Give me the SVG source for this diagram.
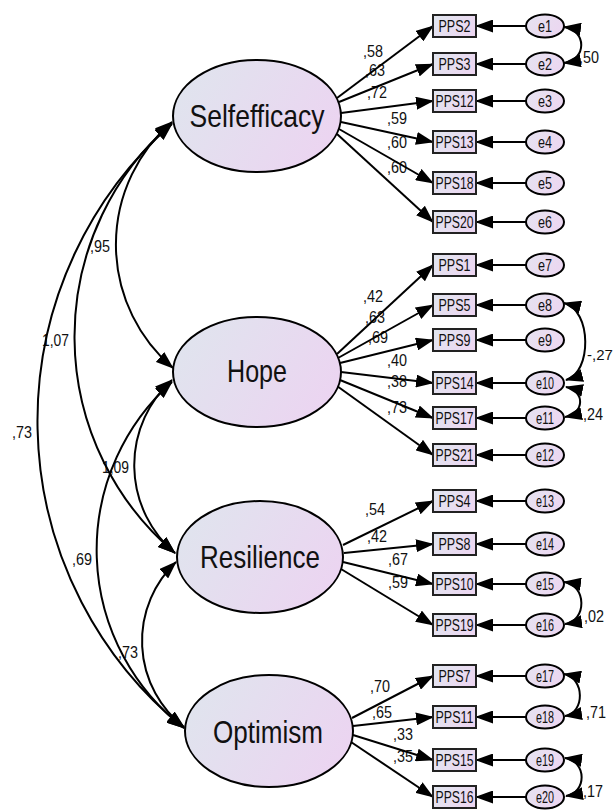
<svg xmlns="http://www.w3.org/2000/svg" width="615" height="811" viewBox="0 0 615 811">
<defs>
<linearGradient id="gLat" x1="0" y1="0.3" x2="1" y2="0.7">
<stop offset="0" stop-color="#e0e4ee"/><stop offset="1" stop-color="#ecd4f1"/>
</linearGradient>
<linearGradient id="gObs" x1="0" y1="0.3" x2="1" y2="0.7">
<stop offset="0" stop-color="#e2e5ef"/><stop offset="1" stop-color="#ecd6f1"/>
</linearGradient>
<linearGradient id="gErr" x1="0" y1="0.3" x2="1" y2="0.7">
<stop offset="0" stop-color="#e6e2f0"/><stop offset="1" stop-color="#ecd6f1"/>
</linearGradient>
<marker id="ah" viewBox="0 0 18 13" refX="17" refY="6.5" markerWidth="18" markerHeight="13" markerUnits="userSpaceOnUse" orient="auto-start-reverse">
<path d="M0,0 L18,6.5 L0,13 z" fill="#000"/>
</marker>
</defs>
<style>
.lat{fill:url(#gLat);stroke:#000;stroke-width:2}
.obs{fill:url(#gObs);stroke:#222;stroke-width:2}
.err{fill:url(#gErr);stroke:#000;stroke-width:2}
.ln{stroke:#000;stroke-width:2;fill:none}
.a1{marker-end:url(#ah)}
.a2{marker-start:url(#ah);marker-end:url(#ah)}
text{font-family:"Liberation Sans",Arial,sans-serif;fill:#111}
.big{font-size:32px;text-anchor:middle}
.bx{font-size:16px;text-anchor:middle}
.lab{font-size:17px}
</style>
<rect width="615" height="811" fill="#fff"/>

<g id="labels">
<text class="lab" x="363" y="57" textLength="20" lengthAdjust="spacingAndGlyphs">,58</text>
<text class="lab" x="365" y="76" textLength="20" lengthAdjust="spacingAndGlyphs">,63</text>
<text class="lab" x="367" y="98" textLength="20" lengthAdjust="spacingAndGlyphs">,72</text>
<text class="lab" x="387" y="124" textLength="20" lengthAdjust="spacingAndGlyphs">,59</text>
<text class="lab" x="387" y="148" textLength="20" lengthAdjust="spacingAndGlyphs">,60</text>
<text class="lab" x="387" y="173" textLength="20" lengthAdjust="spacingAndGlyphs">,60</text>
<text class="lab" x="363" y="302" textLength="20" lengthAdjust="spacingAndGlyphs">,42</text>
<text class="lab" x="365" y="323" textLength="20" lengthAdjust="spacingAndGlyphs">,63</text>
<text class="lab" x="368" y="343" textLength="20" lengthAdjust="spacingAndGlyphs">,69</text>
<text class="lab" x="387" y="366" textLength="20" lengthAdjust="spacingAndGlyphs">,40</text>
<text class="lab" x="387" y="387" textLength="20" lengthAdjust="spacingAndGlyphs">,38</text>
<text class="lab" x="387" y="413" textLength="20" lengthAdjust="spacingAndGlyphs">,73</text>
<text class="lab" x="365" y="515" textLength="20" lengthAdjust="spacingAndGlyphs">,54</text>
<text class="lab" x="367" y="542" textLength="20" lengthAdjust="spacingAndGlyphs">,42</text>
<text class="lab" x="388" y="565" textLength="20" lengthAdjust="spacingAndGlyphs">,67</text>
<text class="lab" x="388" y="588" textLength="20" lengthAdjust="spacingAndGlyphs">,59</text>
<text class="lab" x="370" y="692" textLength="20" lengthAdjust="spacingAndGlyphs">,70</text>
<text class="lab" x="372" y="718" textLength="20" lengthAdjust="spacingAndGlyphs">,65</text>
<text class="lab" x="393" y="740" textLength="20" lengthAdjust="spacingAndGlyphs">,33</text>
<text class="lab" x="393" y="762" textLength="20" lengthAdjust="spacingAndGlyphs">,35</text>
<text class="lab" x="90" y="252" textLength="20" lengthAdjust="spacingAndGlyphs">,95</text>
<text class="lab" x="42" y="346" textLength="27" lengthAdjust="spacingAndGlyphs">1,07</text>
<text class="lab" x="12" y="438" textLength="20" lengthAdjust="spacingAndGlyphs">,73</text>
<text class="lab" x="102" y="473" textLength="27" lengthAdjust="spacingAndGlyphs">1,09</text>
<text class="lab" x="72" y="565" textLength="20" lengthAdjust="spacingAndGlyphs">,69</text>
<text class="lab" x="118" y="658" textLength="20" lengthAdjust="spacingAndGlyphs">,73</text>
<text class="lab" x="579" y="63" textLength="20" lengthAdjust="spacingAndGlyphs">,50</text>
<text x="587" y="360" style="font-size:15px">-,27</text>
<text class="lab" x="583" y="420" textLength="20" lengthAdjust="spacingAndGlyphs">,24</text>
<text class="lab" x="584" y="622" textLength="20" lengthAdjust="spacingAndGlyphs">,02</text>
<text class="lab" x="586" y="718" textLength="20" lengthAdjust="spacingAndGlyphs">,71</text>
<text class="lab" x="583" y="797" textLength="20" lengthAdjust="spacingAndGlyphs">,17</text>
</g>

<g id="connectors">
<path class="ln a1" d="M337,98 L433,26"/>
<path class="ln a1" d="M339,102 L433,64"/>
<path class="ln a1" d="M341,113 L433,101"/>
<path class="ln a1" d="M341,122 L433,142"/>
<path class="ln a1" d="M339,129 L433,183"/>
<path class="ln a1" d="M337,134 L433,222"/>
<path class="ln a1" d="M337,354 L433,265"/>
<path class="ln a1" d="M338,358 L433,305"/>
<path class="ln a1" d="M340,363 L433,340"/>
<path class="ln a1" d="M341,372 L433,383"/>
<path class="ln a1" d="M340,380 L433,418"/>
<path class="ln a1" d="M337,386 L433,455"/>
<path class="ln a1" d="M343,545 L433,501"/>
<path class="ln a1" d="M344,553 L433,544"/>
<path class="ln a1" d="M343,562 L433,584"/>
<path class="ln a1" d="M341,569 L433,625"/>
<path class="ln a1" d="M352,718 L433,676"/>
<path class="ln a1" d="M353,726 L433,717"/>
<path class="ln a1" d="M353,735 L433,760"/>
<path class="ln a1" d="M351,742 L433,797"/>

<path class="ln a1" d="M526,26 L476,26"/>
<path class="ln a1" d="M526,64 L476,64"/>
<path class="ln a1" d="M526,101 L476,101"/>
<path class="ln a1" d="M526,142 L476,142"/>
<path class="ln a1" d="M526,183 L476,183"/>
<path class="ln a1" d="M526,222 L476,222"/>
<path class="ln a1" d="M526,265 L476,265"/>
<path class="ln a1" d="M526,305 L476,305"/>
<path class="ln a1" d="M526,340 L476,340"/>
<path class="ln a1" d="M526,383 L476,383"/>
<path class="ln a1" d="M526,418 L476,418"/>
<path class="ln a1" d="M526,455 L476,455"/>
<path class="ln a1" d="M526,501 L476,501"/>
<path class="ln a1" d="M526,544 L476,544"/>
<path class="ln a1" d="M526,584 L476,584"/>
<path class="ln a1" d="M526,625 L476,625"/>
<path class="ln a1" d="M526,676 L476,676"/>
<path class="ln a1" d="M526,717 L476,717"/>
<path class="ln a1" d="M526,760 L476,760"/>
<path class="ln a1" d="M526,797 L476,797"/>

<path class="ln a2" d="M564,27 C587,30 587,60 564,63"/>
<path class="ln a2" d="M564,303 C592,310 592,373 566,380"/>
<path class="ln a2" d="M566,387 C585,391 585,413 565,417"/>
<path class="ln a2" d="M564,582 C587,585 587,621 565,624"/>
<path class="ln a2" d="M564,674 C585,678 585,713 565,716"/>
<path class="ln a2" d="M565,758 C587,761 587,793 566,796"/>

<path class="ln a2" d="M172,122 A162,162 0 0 0 173,368"/>
<path class="ln a2" d="M172,123 A283,283 0 0 0 175,553"/>
<path class="ln a2" d="M172,124 A395,395 0 0 0 184,728"/>
<path class="ln a2" d="M172,380 A115,115 0 0 0 175,553"/>
<path class="ln a2" d="M172,382 A225,225 0 0 0 184,728"/>
<path class="ln a2" d="M176,562 A109,109 0 0 0 184,727"/>
</g>

<g id="selfefficacy"><ellipse class="lat" cx="257" cy="116" rx="84" ry="56"/><text class="big" x="257" y="127" textLength="135" lengthAdjust="spacingAndGlyphs">Selfefficacy</text></g>
<g id="hope"><ellipse class="lat" cx="257" cy="372" rx="84" ry="55"/><text class="big" x="257" y="382" textLength="60" lengthAdjust="spacingAndGlyphs">Hope</text></g>
<g id="resilience"><ellipse class="lat" cx="260" cy="557" rx="83" ry="56"/><text class="big" x="260" y="568" textLength="120" lengthAdjust="spacingAndGlyphs">Resilience</text></g>
<g id="optimism"><ellipse class="lat" cx="269" cy="731" rx="84" ry="56"/><text class="big" x="268" y="743" textLength="110" lengthAdjust="spacingAndGlyphs">Optimism</text></g>

<g id="PPS2"><rect class="obs" x="433" y="15" width="43" height="22"/><text class="bx" x="454.5" y="32" textLength="32" lengthAdjust="spacingAndGlyphs">PPS2</text></g>
<g id="PPS3"><rect class="obs" x="433" y="53" width="43" height="22"/><text class="bx" x="454.5" y="70" textLength="32" lengthAdjust="spacingAndGlyphs">PPS3</text></g>
<g id="PPS12"><rect class="obs" x="433" y="90" width="43" height="22"/><text class="bx" x="454.5" y="107" textLength="38" lengthAdjust="spacingAndGlyphs">PPS12</text></g>
<g id="PPS13"><rect class="obs" x="433" y="131" width="43" height="22"/><text class="bx" x="454.5" y="148" textLength="38" lengthAdjust="spacingAndGlyphs">PPS13</text></g>
<g id="PPS18"><rect class="obs" x="433" y="172" width="43" height="22"/><text class="bx" x="454.5" y="189" textLength="38" lengthAdjust="spacingAndGlyphs">PPS18</text></g>
<g id="PPS20"><rect class="obs" x="433" y="211" width="43" height="22"/><text class="bx" x="454.5" y="228" textLength="38" lengthAdjust="spacingAndGlyphs">PPS20</text></g>
<g id="PPS1"><rect class="obs" x="433" y="254" width="43" height="22"/><text class="bx" x="454.5" y="271" textLength="32" lengthAdjust="spacingAndGlyphs">PPS1</text></g>
<g id="PPS5"><rect class="obs" x="433" y="294" width="43" height="22"/><text class="bx" x="454.5" y="311" textLength="32" lengthAdjust="spacingAndGlyphs">PPS5</text></g>
<g id="PPS9"><rect class="obs" x="433" y="329" width="43" height="22"/><text class="bx" x="454.5" y="346" textLength="32" lengthAdjust="spacingAndGlyphs">PPS9</text></g>
<g id="PPS14"><rect class="obs" x="433" y="372" width="43" height="22"/><text class="bx" x="454.5" y="389" textLength="38" lengthAdjust="spacingAndGlyphs">PPS14</text></g>
<g id="PPS17"><rect class="obs" x="433" y="407" width="43" height="22"/><text class="bx" x="454.5" y="424" textLength="38" lengthAdjust="spacingAndGlyphs">PPS17</text></g>
<g id="PPS21"><rect class="obs" x="433" y="444" width="43" height="22"/><text class="bx" x="454.5" y="461" textLength="38" lengthAdjust="spacingAndGlyphs">PPS21</text></g>
<g id="PPS4"><rect class="obs" x="433" y="490" width="43" height="22"/><text class="bx" x="454.5" y="507" textLength="32" lengthAdjust="spacingAndGlyphs">PPS4</text></g>
<g id="PPS8"><rect class="obs" x="433" y="533" width="43" height="22"/><text class="bx" x="454.5" y="550" textLength="32" lengthAdjust="spacingAndGlyphs">PPS8</text></g>
<g id="PPS10"><rect class="obs" x="433" y="573" width="43" height="22"/><text class="bx" x="454.5" y="590" textLength="38" lengthAdjust="spacingAndGlyphs">PPS10</text></g>
<g id="PPS19"><rect class="obs" x="433" y="614" width="43" height="22"/><text class="bx" x="454.5" y="631" textLength="38" lengthAdjust="spacingAndGlyphs">PPS19</text></g>
<g id="PPS7"><rect class="obs" x="433" y="665" width="43" height="22"/><text class="bx" x="454.5" y="682" textLength="32" lengthAdjust="spacingAndGlyphs">PPS7</text></g>
<g id="PPS11"><rect class="obs" x="433" y="706" width="43" height="22"/><text class="bx" x="454.5" y="723" textLength="38" lengthAdjust="spacingAndGlyphs">PPS11</text></g>
<g id="PPS15"><rect class="obs" x="433" y="749" width="43" height="22"/><text class="bx" x="454.5" y="766" textLength="38" lengthAdjust="spacingAndGlyphs">PPS15</text></g>
<g id="PPS16"><rect class="obs" x="433" y="786" width="43" height="22"/><text class="bx" x="454.5" y="803" textLength="38" lengthAdjust="spacingAndGlyphs">PPS16</text></g>

<g id="e1"><ellipse class="err" cx="545" cy="26" rx="19" ry="11.5"/><text class="bx" x="545" y="32" textLength="14" lengthAdjust="spacingAndGlyphs">e1</text></g>
<g id="e2"><ellipse class="err" cx="545" cy="64" rx="19" ry="11.5"/><text class="bx" x="545" y="70" textLength="14" lengthAdjust="spacingAndGlyphs">e2</text></g>
<g id="e3"><ellipse class="err" cx="545" cy="101" rx="19" ry="11.5"/><text class="bx" x="545" y="107" textLength="14" lengthAdjust="spacingAndGlyphs">e3</text></g>
<g id="e4"><ellipse class="err" cx="545" cy="142" rx="19" ry="11.5"/><text class="bx" x="545" y="148" textLength="14" lengthAdjust="spacingAndGlyphs">e4</text></g>
<g id="e5"><ellipse class="err" cx="545" cy="183" rx="19" ry="11.5"/><text class="bx" x="545" y="189" textLength="14" lengthAdjust="spacingAndGlyphs">e5</text></g>
<g id="e6"><ellipse class="err" cx="545" cy="222" rx="19" ry="11.5"/><text class="bx" x="545" y="228" textLength="14" lengthAdjust="spacingAndGlyphs">e6</text></g>
<g id="e7"><ellipse class="err" cx="545" cy="265" rx="19" ry="11.5"/><text class="bx" x="545" y="271" textLength="14" lengthAdjust="spacingAndGlyphs">e7</text></g>
<g id="e8"><ellipse class="err" cx="545" cy="305" rx="19" ry="11.5"/><text class="bx" x="545" y="311" textLength="14" lengthAdjust="spacingAndGlyphs">e8</text></g>
<g id="e9"><ellipse class="err" cx="545" cy="340" rx="19" ry="11.5"/><text class="bx" x="545" y="346" textLength="14" lengthAdjust="spacingAndGlyphs">e9</text></g>
<g id="e10"><ellipse class="err" cx="545" cy="383" rx="19" ry="11.5"/><text class="bx" x="545" y="389" textLength="18" lengthAdjust="spacingAndGlyphs">e10</text></g>
<g id="e11"><ellipse class="err" cx="545" cy="418" rx="19" ry="11.5"/><text class="bx" x="545" y="424" textLength="18" lengthAdjust="spacingAndGlyphs">e11</text></g>
<g id="e12"><ellipse class="err" cx="545" cy="455" rx="19" ry="11.5"/><text class="bx" x="545" y="461" textLength="18" lengthAdjust="spacingAndGlyphs">e12</text></g>
<g id="e13"><ellipse class="err" cx="545" cy="501" rx="19" ry="11.5"/><text class="bx" x="545" y="507" textLength="18" lengthAdjust="spacingAndGlyphs">e13</text></g>
<g id="e14"><ellipse class="err" cx="545" cy="544" rx="19" ry="11.5"/><text class="bx" x="545" y="550" textLength="18" lengthAdjust="spacingAndGlyphs">e14</text></g>
<g id="e15"><ellipse class="err" cx="545" cy="584" rx="19" ry="11.5"/><text class="bx" x="545" y="590" textLength="18" lengthAdjust="spacingAndGlyphs">e15</text></g>
<g id="e16"><ellipse class="err" cx="545" cy="625" rx="19" ry="11.5"/><text class="bx" x="545" y="631" textLength="18" lengthAdjust="spacingAndGlyphs">e16</text></g>
<g id="e17"><ellipse class="err" cx="545" cy="676" rx="19" ry="11.5"/><text class="bx" x="545" y="682" textLength="18" lengthAdjust="spacingAndGlyphs">e17</text></g>
<g id="e18"><ellipse class="err" cx="545" cy="717" rx="19" ry="11.5"/><text class="bx" x="545" y="723" textLength="18" lengthAdjust="spacingAndGlyphs">e18</text></g>
<g id="e19"><ellipse class="err" cx="545" cy="760" rx="19" ry="11.5"/><text class="bx" x="545" y="766" textLength="18" lengthAdjust="spacingAndGlyphs">e19</text></g>
<g id="e20"><ellipse class="err" cx="545" cy="797" rx="19" ry="11.5"/><text class="bx" x="545" y="803" textLength="18" lengthAdjust="spacingAndGlyphs">e20</text></g>
</svg>
